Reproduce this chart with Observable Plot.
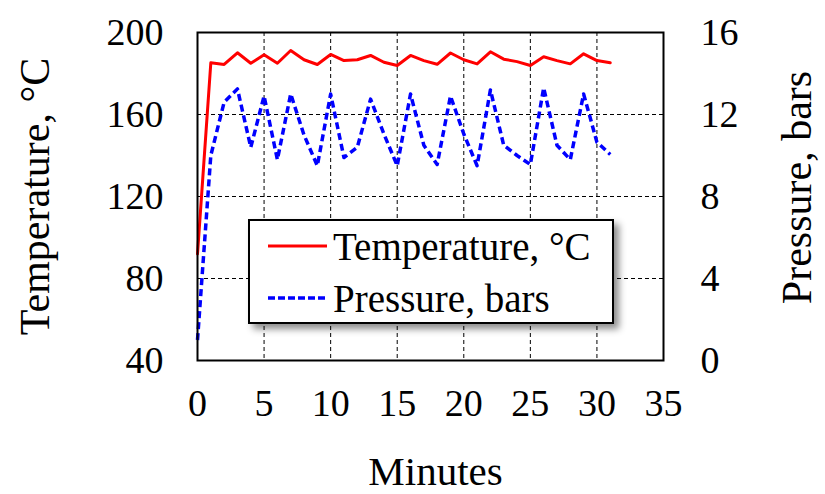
<!DOCTYPE html>
<html>
<head>
<meta charset="utf-8">
<script src="https://cdn.jsdelivr.net/npm/d3@7"></script>
<script src="https://cdn.jsdelivr.net/npm/@observablehq/plot@0.6"></script>
<style>
  html, body { margin: 0; padding: 0; background: #fff; }
  #wrap { position: relative; width: 825px; height: 494px; font-family: "Liberation Serif", "Times New Roman", serif; }
  #legend { position: absolute; left: 248px; top: 219px; width: 362px; height: 101px; border: 2px solid #000; background: #fff; box-shadow: 5px 5px 7px rgba(0,0,0,0.45); }
</style>
</head>
<body>
<div id="wrap"></div>
<script>
const minutes = [0,1,2,3,4,5,6,7,8,9,10,11,12,13,14,15,16,17,18,19,20,21,22,23,24,25,26,27,28,29,30,31];
const temperature = [92,185.2,184.4,190.1,185,189.1,185,191.2,186.7,184.4,189.3,186.3,186.7,188.8,185.5,183.9,188.8,186.3,184.5,190,186.7,184.7,190.6,187,185.8,183.9,188.2,186.3,184.7,189.6,186.3,185.2];
const pressure = [1,10,12.6,13.25,10.4,12.9,9.8,13.0,11.0,9.5,13.0,9.9,10.4,12.75,11.05,9.5,13.0,10.5,9.56,12.9,11.05,9.5,13.2,10.5,10.0,9.56,13.3,10.5,9.8,13.0,10.65,10.05];
const xTicks = [0,5,10,15,20,25,30,35];
const tempTicks = [40,80,120,160,200];
const pressTicks = [0,4,8,12,16];
const xGrid = [5,10,15,20,25,30];
const yGrid = [80,120,160];
const seriesNames = ["Temperature, °C", "Pressure, bars"];
const xTitle = "Minutes";

// pressure (0–16 bars) shares the temperature axis (40–200 °C)
const pToT = p => 40 + p * 10;
const tToP = t => (t - 40) / 10;

const tempData = minutes.map((m, i) => ({m, v: temperature[i]}));
const pressData = minutes.map((m, i) => ({m, v: pToT(pressure[i])}));

const font = "'Liberation Serif', 'Times New Roman', serif";

const chart = Plot.plot({
  width: 825,
  height: 494,
  marginLeft: 197,
  marginRight: 162,
  marginTop: 32,
  marginBottom: 134,
  style: {fontFamily: font, fontSize: "38px", color: "#000", background: "#fff", overflow: "visible"},
  x: {domain: [0, 35]},
  y: {domain: [40, 200]},
  marks: [
    Plot.ruleX(xGrid, {stroke: "#000", strokeWidth: 1, strokeDasharray: "4,3"}),
    Plot.ruleY(yGrid, {stroke: "#000", strokeWidth: 1, strokeDasharray: "4,3"}),
    Plot.axisX({ticks: xTicks, tickSize: 0, tickPadding: 29, label: null, fontSize: 38}),
    Plot.axisY({ticks: tempTicks, tickSize: 0, tickPadding: 34, label: null, anchor: "left", fontSize: 38}),
    Plot.axisY({ticks: pressTicks.map(pToT), tickFormat: d => String(tToP(d)), tickSize: 0, tickPadding: 37, label: null, anchor: "right", fontSize: 38}),
    Plot.line(pressData, {x: "m", y: "v", stroke: "#0000ff", strokeWidth: 3.5, strokeDasharray: "7,4", strokeLinejoin: "round", strokeLinecap: "butt"}),
    Plot.line(tempData, {x: "m", y: "v", stroke: "#ff0000", strokeWidth: 3, strokeLinejoin: "round"}),
    Plot.frame({stroke: "#000", strokeWidth: 2}),
    Plot.text([seriesNames[0]], {frameAnchor: "left", dx: -162, rotate: -90, textAnchor: "middle", lineAnchor: "middle", fontSize: 42, fill: "#000"}),
    Plot.text([seriesNames[1]], {frameAnchor: "right", dx: 134, dy: -9, rotate: -90, textAnchor: "middle", lineAnchor: "middle", fontSize: 42, fill: "#000"}),
    Plot.text([xTitle], {frameAnchor: "bottom", dx: 5, dy: 111, textAnchor: "middle", lineAnchor: "middle", fontSize: 41, fill: "#000"})
  ]
});

const wrap = document.getElementById("wrap");
wrap.appendChild(chart);

// legend (inside the plot area, as in the reference)
const legend = document.createElement("div");
legend.id = "legend";
const ns = "http://www.w3.org/2000/svg";
const lsvg = document.createElementNS(ns, "svg");
lsvg.setAttribute("width", 362);
lsvg.setAttribute("height", 101);
const styles = [
  {stroke: "#ff0000", dash: null, width: 3},
  {stroke: "#0000ff", dash: "7,3", width: 3.5}
];
seriesNames.forEach((name, i) => {
  const cy = 25 + i * 52;
  const ln = document.createElementNS(ns, "line");
  ln.setAttribute("x1", 18); ln.setAttribute("x2", 77);
  ln.setAttribute("y1", cy); ln.setAttribute("y2", cy);
  ln.setAttribute("stroke", styles[i].stroke);
  ln.setAttribute("stroke-width", styles[i].width);
  if (styles[i].dash) ln.setAttribute("stroke-dasharray", styles[i].dash);
  lsvg.appendChild(ln);
  const tx = document.createElementNS(ns, "text");
  tx.setAttribute("x", 83); tx.setAttribute("y", cy);
  tx.setAttribute("dy", "0.35em");
  tx.setAttribute("font-family", font);
  tx.setAttribute("font-size", 39);
  tx.textContent = name;
  lsvg.appendChild(tx);
});
legend.appendChild(lsvg);
wrap.appendChild(legend);
</script>
</body>
</html>
